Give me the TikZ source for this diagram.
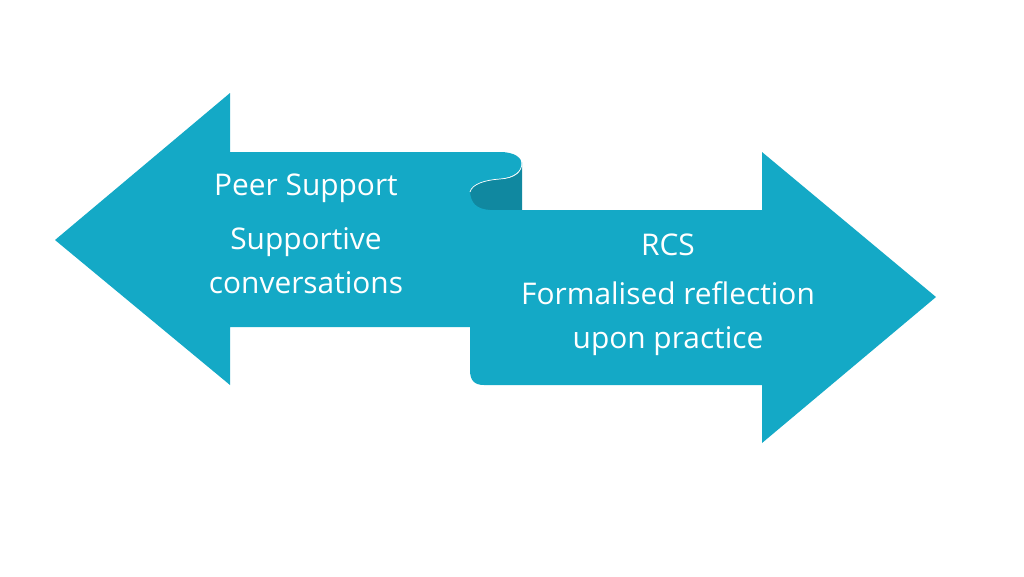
\documentclass[tikz,border=0pt]{standalone}
\usepackage{fontspec}
\setmainfont{Open Sans}
\usetikzlibrary{positioning}
\definecolor{teal}{RGB}{20,169,198}
\definecolor{darkteal}{RGB}{16,136,160}
\tikzset{
    label/.style={text=white, font=\fontsize{17}{25}\selectfont, align=center, inner sep=0pt},
    band/.style={fill=teal, draw=none}
}
\begin{document}
\begin{tikzpicture}[x=0.02cm, y=-0.02cm]
    \useasboundingbox (0,0) rectangle (1024,576);

    % left arrow
    \fill[band] (55,240) -- (230,93) -- (230,152) -- (500,152)
        .. controls (530,152) and (528,176) .. (500,179)
        .. controls (485,180) and (472,184) .. (470,192)
        -- (470,327) -- (230,327) -- (230,385) -- cycle;

    % fold
    \fill[darkteal] (470,192) .. controls (472,184) and (485,180) .. (500,179)
        .. controls (515,178) and (522,172) .. (522,162) -- (522,210) -- (470,210) -- cycle;
    \draw[white, thin] (470,192) .. controls (472,184) and (485,180) .. (500,179)
        .. controls (515,178) and (522,172) .. (522,162);

    % right arrow
    \fill[band] (470,192) .. controls (471,203) and (476,209) .. (490,210)
        -- (762,210) -- (762,152) -- (936,297) -- (762,443) -- (762,385)
        -- (484,385) .. controls (474,385) and (470,380) .. (470,370) -- cycle;

    % texts
    \node[label] (peer) at (306,188) {Peer Support};
    \node[label, below=14pt of peer] (conv) {Supportive\\conversations};
    \node[label] (rcs) at (668,245) {RCS};
    \node[label, below=14pt of rcs] (refl) {Formalised reflection\\upon practice};
\end{tikzpicture}
\end{document}
